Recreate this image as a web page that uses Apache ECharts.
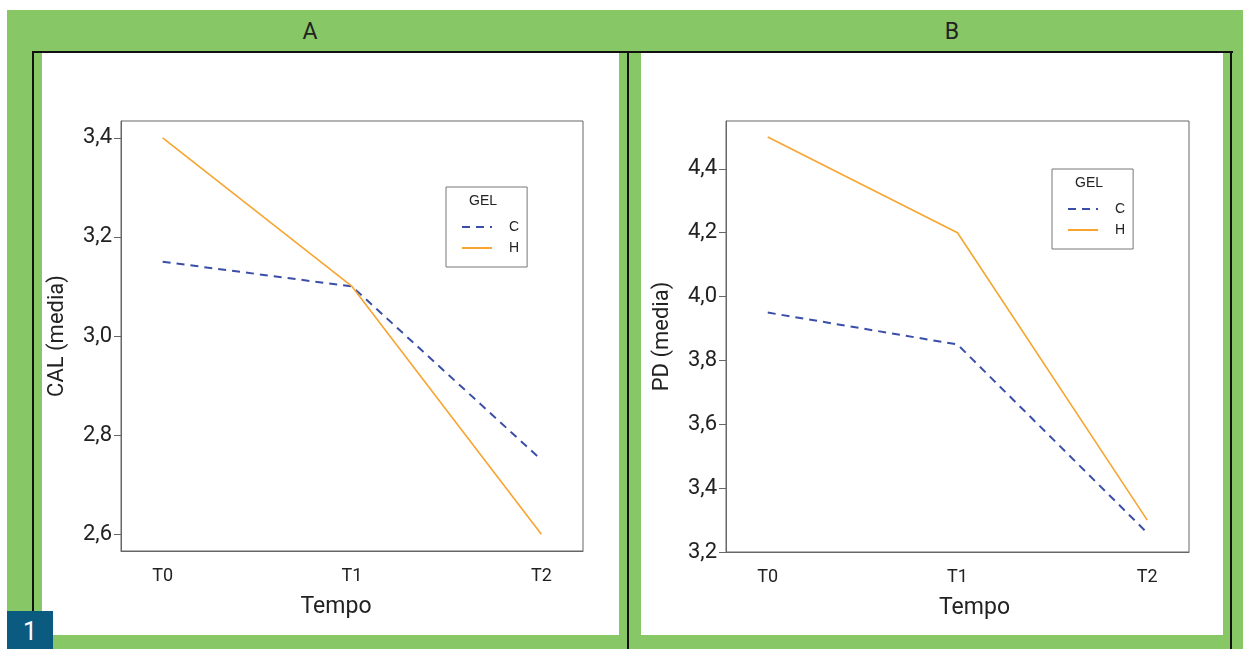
<!DOCTYPE html>
<html>
<head>
<meta charset="utf-8">
<script src="https://cdn.jsdelivr.net/npm/echarts@6/dist/echarts.min.js"></script>
<style>
  html, body { margin:0; padding:0; background:#fff; }
  #wrap { position:relative; width:1243px; height:649px; overflow:hidden; background:#fff; }
  .abs { position:absolute; }
  #green { left:7px; top:10px; right:0; bottom:0; background:#88c766; }
  .panel { background:#fff; top:53px; height:582px; }
  .hline { background:#111; height:2px; }
  .vline { background:#111; width:2px; }
  .hdr { font-family:"Roboto","DejaVu Sans Condensed",sans-serif; font-size:23px; color:#222; top:18px; transform:translateX(-50%); }
  #badge { left:7px; top:611px; width:46px; height:38px; background:#0b5a80; color:#fff;
           font-family:"Roboto",sans-serif; font-size:25px; line-height:42px; text-align:center; }
  #chart { position:absolute; left:0; top:0; width:1243px; height:649px; }
</style>
</head>
<body>
<div id="wrap">
  <div id="green" class="abs"></div>
  <div class="abs panel" style="left:42px; width:577px;"></div>
  <div class="abs panel" style="left:641px; width:582px;"></div>
  <div class="abs hline" style="left:32px; top:51px; width:1201px;"></div>
  <div class="abs vline" style="left:32px; top:51px; height:598px;"></div>
  <div class="abs vline" style="left:627px; top:51px; height:598px;"></div>
  <div class="abs vline" style="left:1230px; top:51px; height:598px;"></div>
  <div class="abs hdr" style="left:310px;">A</div>
  <div class="abs hdr" style="left:952px;">B</div>
  <div id="badge" class="abs">1</div>
  <div id="chart"></div>
</div>
<script>
// ---- data ----
const categories = ['T0', 'T1', 'T2'];
const calC = [3.15, 3.10, 2.75];
const calH = [3.40, 3.10, 2.60];
const pdC  = [3.95, 3.85, 3.26];
const pdH  = [4.50, 4.20, 3.30];
const calTicks = [2.6, 2.8, 3.0, 3.2, 3.4];
const pdTicks  = [3.2, 3.4, 3.6, 3.8, 4.0, 4.2, 4.4];
const panelTitles = ['CAL (media)', 'PD (media)'];
const xTitle = 'Tempo';
const legendTitle = 'GEL';

const FONT = 'Roboto, "DejaVu Sans Condensed", sans-serif';
const LFONT = '"Liberation Sans", Arial, sans-serif';
const ORANGE = '#f7a530';
const BLUE = '#3a4ea8';
const AXIS = '#666';

const toPts = arr => arr.map((v, i) => [i, v]);
const fmt = v => v.toFixed(1).replace('.', ',');

function xAxisOf(gi, namePad) {
  return {
    gridIndex: gi, type: 'value', min: -0.22, max: 2.22,
    axisLine: { show: true, onZero: false, lineStyle: { color: AXIS, width: 1 } },
    axisTick: { show: false },
    splitLine: { show: false },
    axisLabel: { customValues: [0, 1, 2], formatter: v => categories[Math.round(v)] ?? '',
                 fontFamily: FONT, fontSize: 18, color: '#222', margin: 16 },
    name: xTitle, nameLocation: 'middle', nameGap: 45,
    nameTextStyle: { fontFamily: FONT, fontSize: 23, color: '#222', padding: namePad }
  };
}
function yAxisOf(gi, min, max, ticks, title) {
  return {
    gridIndex: gi, type: 'value', min: min, max: max,
    axisLine: { show: true, onZero: false, lineStyle: { color: AXIS, width: 1 } },
    axisTick: { show: true, inside: false, customValues: ticks, length: 7, lineStyle: { color: AXIS } },
    splitLine: { show: false },
    axisLabel: { customValues: ticks, formatter: v => fmt(v),
                 fontFamily: FONT, fontSize: 22, color: '#222', margin: 9 },
    name: title, nameLocation: 'middle', nameGap: 53, nameRotate: 90,
    nameTextStyle: { fontFamily: FONT, fontSize: 22, color: '#222' }
  };
}
function seriesOf(gi, c, h) {
  return [
    { name: 'C', type: 'line', xAxisIndex: gi, yAxisIndex: gi, data: toPts(c),
      symbol: 'none', lineStyle: { color: BLUE, width: 2, type: [8, 6] }, itemStyle: { color: BLUE } },
    { name: 'H', type: 'line', xAxisIndex: gi, yAxisIndex: gi, data: toPts(h),
      symbol: 'none', lineStyle: { color: ORANGE, width: 1.6 }, itemStyle: { color: ORANGE } }
  ];
}
function legendOf(left, top) {
  return {
    orient: 'vertical', left: left, top: top,
    data: ['C', 'H'],
    padding: [33, 8, 12, 15],
    borderColor: '#777', borderWidth: 1,
    itemWidth: 30, itemHeight: 14, itemGap: 7,
    itemStyle: { color: 'rgba(0,0,0,0)', borderWidth: 0, opacity: 0 },
    textStyle: { fontFamily: LFONT, fontSize: 14, color: '#222', padding: [0, 0, 0, 12] },
    selectedMode: false
  };
}

const chart = echarts.init(document.getElementById('chart'), null, { renderer: 'canvas' });
chart.setOption({
  animation: false,
  backgroundColor: 'transparent',
  title: [
    { text: legendTitle, left: 469, top: 194, padding: 0,
      textStyle: { fontFamily: LFONT, fontSize: 14, fontWeight: 'normal', color: '#222' } },
    { text: legendTitle, left: 1075, top: 176, padding: 0,
      textStyle: { fontFamily: LFONT, fontSize: 14, fontWeight: 'normal', color: '#222' } }
  ],
  grid: [
    { left: 121, top: 121, width: 462, height: 430, show: true, borderColor: AXIS, borderWidth: 1, backgroundColor: 'transparent' },
    { left: 726, top: 121, width: 463, height: 431, show: true, borderColor: AXIS, borderWidth: 1, backgroundColor: 'transparent' }
  ],
  xAxis: [xAxisOf(0, [0, 32, 0, 0]), xAxisOf(1, [0, 0, 0, 34])],
  yAxis: [
    yAxisOf(0, 2.566, 3.434, calTicks, panelTitles[0]),
    yAxisOf(1, 3.2, 4.55, pdTicks, panelTitles[1])
  ],
  legend: [legendOf(446, 187), legendOf(1052, 169)],
  series: [...seriesOf(0, calC, calH), ...seriesOf(1, pdC, pdH)]
});
</script>
</body>
</html>
